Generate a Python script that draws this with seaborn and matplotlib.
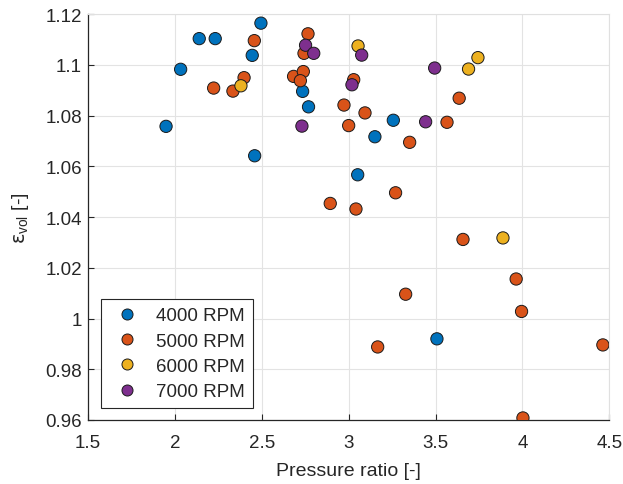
import matplotlib
matplotlib.use("Agg")
import matplotlib.pyplot as plt
import seaborn as sns
import pandas as pd

# data
rpm_4000_x = [2.495, 2.140, 2.232, 2.445, 2.033, 1.949, 2.459, 2.735, 2.769, 3.052, 3.257, 3.151, 3.508]
rpm_4000_y = [1.1165, 1.1104, 1.1104, 1.1038, 1.0983, 1.0758, 1.0642, 1.0896, 1.0835, 1.0567, 1.0782, 1.0717, 0.9920]

rpm_5000_x = [2.766, 2.457, 2.743, 2.398, 2.223, 2.334, 2.683, 2.739, 2.722, 3.029, 2.973, 3.000, 2.894,
              3.042, 3.094, 3.636, 3.566, 3.351, 3.270, 3.658, 3.964, 3.328, 3.995, 3.167, 4.463, 4.003]
rpm_5000_y = [1.1123, 1.1096, 1.1046, 1.0950, 1.0909, 1.0897, 1.0955, 1.0974, 1.0938, 1.0942, 1.0842, 1.0761, 1.0454,
              1.0432, 1.0811, 1.0869, 1.0774, 1.0695, 1.0496, 1.0312, 1.0156, 1.0096, 1.0028, 0.9888, 0.9896, 0.9608]

rpm_6000_x = [2.380, 3.054, 3.690, 3.744, 3.888]
rpm_6000_y = [1.0918, 1.1075, 1.0984, 1.1029, 1.0318]

rpm_7000_x = [2.752, 2.799, 2.731, 3.075, 3.019, 3.495, 3.443]
rpm_7000_y = [1.1078, 1.1046, 1.0759, 1.1039, 1.0922, 1.0988, 1.0776]

labels = ["4000 RPM", "5000 RPM", "6000 RPM", "7000 RPM"]
colors = ["#0072BD", "#D95319", "#EDB120", "#7E2F8E"]

frames = []
for lab, xs, ys in zip(labels,
                       [rpm_4000_x, rpm_5000_x, rpm_6000_x, rpm_7000_x],
                       [rpm_4000_y, rpm_5000_y, rpm_6000_y, rpm_7000_y]):
    frames.append(pd.DataFrame({"pr": xs, "eps": ys, "speed": lab}))
df = pd.concat(frames, ignore_index=True)

sns.set_style("whitegrid")
plt.rcParams['font.family'] = ['Liberation Sans', 'DejaVu Sans']
plt.rcParams['mathtext.fontset'] = 'custom'
plt.rcParams['mathtext.rm'] = 'Liberation Sans'
plt.rcParams['mathtext.it'] = 'DejaVu Sans'  # upright lunate epsilon like MATLAB's

fig = plt.figure(figsize=(6.23, 4.85), dpi=100)
ax = fig.add_axes([0.1413, 0.132, 0.8367, 0.8365])

sns.scatterplot(data=df, x="pr", y="eps", hue="speed", hue_order=labels,
                palette=colors, s=78, edgecolor="#1a1a1a", linewidth=0.7, ax=ax, zorder=3)

ax.set_xlim(1.5, 4.5)
ax.set_ylim(0.96, 1.12)
ax.set_xticks([1.5, 2, 2.5, 3, 3.5, 4, 4.5])
ax.set_xticklabels(["1.5", "2", "2.5", "3", "3.5", "4", "4.5"])
ax.set_yticks([0.96, 0.98, 1.0, 1.02, 1.04, 1.06, 1.08, 1.1, 1.12])
ax.set_yticklabels(["0.96", "0.98", "1", "1.02", "1.04", "1.06", "1.08", "1.1", "1.12"])
ax.tick_params(direction="in", length=4, width=0.8, colors="#262626", labelsize=13.5,
               top=False, right=False, bottom=True, left=True)
ax.tick_params(axis="x", pad=10)
ax.tick_params(axis="y", pad=4.5)
ax.grid(True, color="#e3e3e3", linewidth=0.8)
for side in ["top", "right"]:
    ax.spines[side].set_color("#e0e0e0")
for side in ["bottom", "left"]:
    ax.spines[side].set_color("#262626")
    ax.spines[side].set_linewidth(0.9)

ax.set_xlabel("Pressure ratio [-]", fontsize=14, color="#262626", labelpad=8)
ax.set_ylabel(r"$\epsilon_{\rm vol}$ [-]", fontsize=14, color="#262626", labelpad=10)

leg = ax.legend(loc="lower left", bbox_to_anchor=(0.024, 0.029), borderaxespad=0,
                fontsize=13.5, fancybox=False, framealpha=1, edgecolor="#262626",
                labelspacing=0.44, handletextpad=0.55, borderpad=0.42, markerscale=0.9)
leg.get_frame().set_linewidth(0.8)

fig.savefig("out.png", dpi=100)
